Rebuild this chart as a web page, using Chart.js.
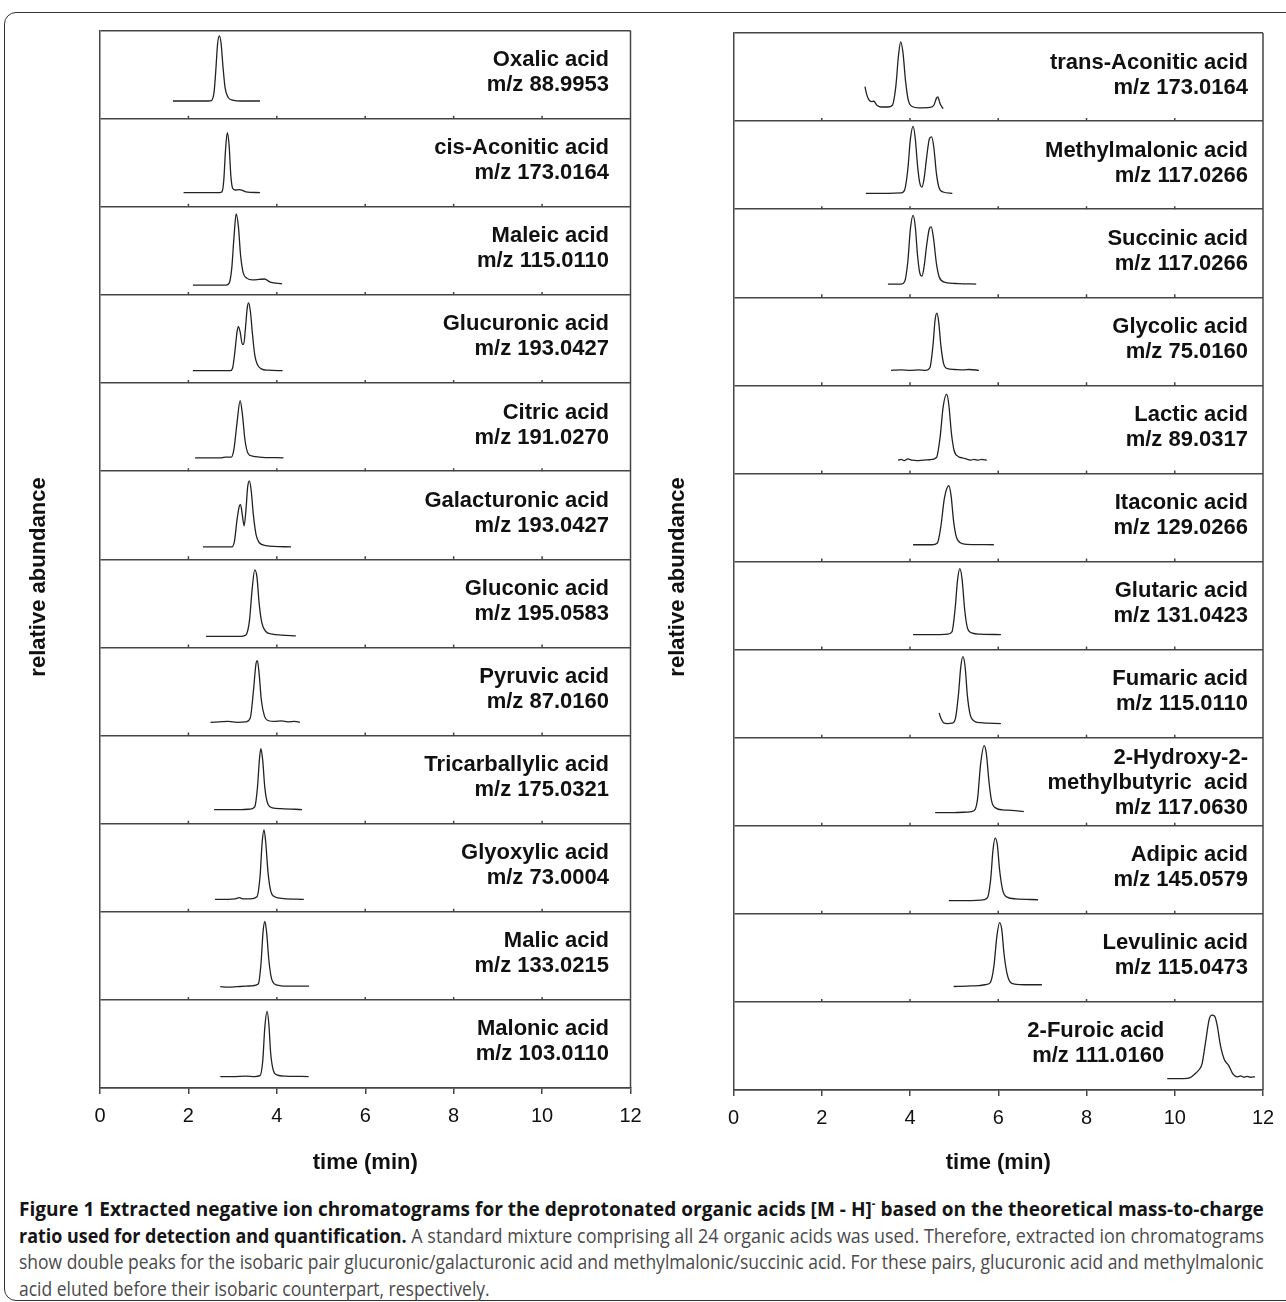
<!DOCTYPE html>
<html><head><meta charset="utf-8">
<script src="https://cdn.jsdelivr.net/npm/chart.js@4.4.0/dist/chart.umd.min.js"></script>
<style>
html,body{margin:0;padding:0;background:#fff;}
body{width:1286px;height:1302px;position:relative;overflow:hidden;font-family:"Liberation Sans",Arial,sans-serif;}
#frame{position:absolute;left:4px;top:12px;width:1320px;height:1289px;border:1.5px solid #333;border-radius:12px;box-sizing:border-box;}
.cv{position:absolute;top:0;}
.cap{position:absolute;left:19px;white-space:nowrap;font-family:"Open Sans",sans-serif;font-size:20px;color:#4a4a4a;transform-origin:0 50%;line-height:26px;height:26px;}
.cap b{color:#151515;font-weight:700;}
.cap sup{font-size:12px;line-height:0;}
</style></head>
<body>
<div id="frame"></div>
<canvas id="c1" class="cv" style="left:0px" width="650" height="1185"></canvas>
<canvas id="c2" class="cv" style="left:650px" width="636" height="1185"></canvas>
<div class="cap" id="l1" style="top:1196px"><b>Figure 1 Extracted negative ion chromatograms for the deprotonated organic acids [M - H]<sup>-</sup> based on the theoretical mass-to-charge</b></div>
<div class="cap" id="l2" style="top:1223px"><b>ratio used for detection and quantification.</b> A standard mixture comprising all 24 organic acids was used. Therefore, extracted ion chromatograms</div>
<div class="cap" id="l3" style="top:1249px">show double peaks for the isobaric pair glucuronic/galacturonic acid and methylmalonic/succinic acid. For these pairs, glucuronic acid and methylmalonic</div>
<div class="cap" id="l4" style="top:1276px">acid eluted before their isobaric counterpart, respectively.</div>
<script>
// ---------- data ----------
const timeTicks = [0, 2, 4, 6, 8, 10, 12];
const xTitle = "time (min)";
const yTitle = "relative abundance";

const leftNames = [["Oxalic acid"],["cis-Aconitic acid"],["Maleic acid"],["Glucuronic acid"],["Citric acid"],["Galacturonic acid"],["Gluconic acid"],["Pyruvic acid"],["Tricarballylic acid"],["Glyoxylic acid"],["Malic acid"],["Malonic acid"]];
const leftMz = ["m/z 88.9953","m/z 173.0164","m/z 115.0110","m/z 193.0427","m/z 191.0270","m/z 193.0427","m/z 195.0583","m/z 87.0160","m/z 175.0321","m/z 73.0004","m/z 133.0215","m/z 103.0110"];
const rightNames = [["trans-Aconitic acid"],["Methylmalonic acid"],["Succinic acid"],["Glycolic acid"],["Lactic acid"],["Itaconic acid"],["Glutaric acid"],["Fumaric acid"],["2-Hydroxy-2-","methylbutyric  acid"],["Adipic acid"],["Levulinic acid"],["2-Furoic acid"]];
const rightMz = ["m/z 173.0164","m/z 117.0266","m/z 117.0266","m/z 75.0160","m/z 89.0317","m/z 129.0266","m/z 131.0423","m/z 115.0110","m/z 117.0630","m/z 145.0579","m/z 115.0473","m/z 111.0160"];

// traces: [time (min), relative abundance in the sub-plot (%)]
const oxalic = [[1.65,20],[2.45,20],[2.52,20.5],[2.58,30],[2.62,55],[2.66,85],[2.70,94],[2.74,85],[2.78,60],[2.83,35],[2.9,24],[3.0,21],[3.2,20],[3.62,20]];
const cisAconitic = [[1.89,16],[2.7,16],[2.76,17],[2.8,30],[2.84,65],[2.88,84],[2.92,70],[2.96,35],[3.0,21],[3.06,19],[3.15,19.5],[3.3,17],[3.62,16]];
const maleic = [[2.1,11],[2.85,11],[2.92,13],[2.98,30],[3.03,65],[3.08,92],[3.13,78],[3.18,45],[3.24,25],[3.32,19],[3.45,17],[3.6,17.5],[3.72,18],[3.85,14.5],[4.12,12.5]];
const glucuronic = [[2.1,14],[2.95,14],[3.0,17],[3.05,35],[3.1,58],[3.13,64],[3.17,58],[3.22,44],[3.25,44],[3.29,62],[3.33,85],[3.36,91],[3.4,82],[3.45,55],[3.5,32],[3.56,21],[3.65,16],[3.8,14.5],[4.13,14]];
const citric = [[2.15,15],[2.75,15],[2.85,16],[2.97,16],[3.03,25],[3.1,55],[3.17,80],[3.22,65],[3.28,35],[3.35,20],[3.45,17],[3.6,16],[4.15,15]];
const galacturonic = [[2.33,14],[2.98,14],[3.04,20],[3.1,45],[3.15,60],[3.18,62],[3.22,50],[3.26,38],[3.3,55],[3.34,82],[3.38,89],[3.42,78],[3.47,50],[3.53,28],[3.6,19],[3.75,15.5],[4.32,14]];
const gluconic = [[2.4,12.5],[3.2,12.5],[3.3,14],[3.38,30],[3.44,65],[3.5,88],[3.55,80],[3.6,50],[3.66,28],[3.75,18],[3.9,15],[4.1,14],[4.43,13]];
const pyruvic = [[2.5,15],[2.7,15.5],[2.9,16],[3.1,15],[3.3,15.5],[3.4,20],[3.47,50],[3.53,82],[3.56,85],[3.6,70],[3.65,40],[3.72,22],[3.8,17],[3.95,16],[4.1,16.5],[4.25,15.5],[4.4,16],[4.52,15]];
const tricarballylic = [[2.58,16],[3.2,16],[3.4,16.5],[3.5,19],[3.56,40],[3.61,75],[3.64,85],[3.68,72],[3.73,40],[3.8,22],[3.9,18],[4.1,17],[4.57,16]];
const glyoxylic = [[2.6,14],[2.9,14],[3.05,14.5],[3.15,16],[3.25,14.5],[3.4,14.5],[3.55,17],[3.62,40],[3.67,80],[3.71,93],[3.75,78],[3.8,45],[3.86,24],[3.95,17],[4.15,15],[4.61,14]];
const malic = [[2.72,15],[2.9,14.5],[3.1,15],[3.3,15.5],[3.45,16],[3.58,18],[3.64,40],[3.69,78],[3.73,89],[3.77,76],[3.82,45],[3.88,24],[3.95,18],[4.1,16],[4.4,15.5],[4.73,15.5]];
const malonic = [[2.72,13],[3.0,13],[3.3,13.5],[3.5,13],[3.62,14],[3.68,30],[3.73,70],[3.78,87],[3.82,72],[3.86,40],[3.92,20],[4.0,15],[4.2,13.5],[4.72,13]];

const transAconitic = [[2.98,39],[3.02,30],[3.07,24],[3.13,22],[3.18,22.5],[3.25,18],[3.35,16],[3.5,16],[3.6,18],[3.68,40],[3.74,75],[3.79,90],[3.84,78],[3.9,45],[3.96,24],[4.05,16.5],[4.2,15],[4.45,15.5],[4.54,18],[4.6,26],[4.63,27.5],[4.68,20],[4.75,14]];
const methylmalonic = [[3.0,18],[3.5,18],[3.8,18.5],[3.88,22],[3.95,45],[4.01,80],[4.07,94],[4.12,80],[4.17,50],[4.22,30],[4.27,25],[4.32,35],[4.38,60],[4.44,80],[4.49,82],[4.54,70],[4.6,40],[4.66,24],[4.75,19.5],[4.96,18]];
const succinic = [[3.5,15],[3.8,15],[3.88,18],[3.95,40],[4.01,78],[4.07,93],[4.12,80],[4.17,48],[4.22,28],[4.27,24],[4.32,35],[4.38,60],[4.44,78],[4.48,80],[4.53,68],[4.6,38],[4.67,22],[4.8,17],[5.1,15.5],[5.5,15]];
const glycolic = [[3.57,17],[3.8,17.5],[4.0,17],[4.2,17.5],[4.35,17],[4.45,20],[4.52,45],[4.57,75],[4.61,82],[4.65,72],[4.7,45],[4.76,25],[4.85,19],[5.0,18],[5.2,17.5],[5.35,18],[5.56,17]];
const lactic = [[3.73,15],[3.8,16],[3.87,14.5],[3.95,16.5],[4.05,15],[4.15,14.5],[4.3,15],[4.45,15.5],[4.6,18],[4.68,40],[4.75,75],[4.83,90],[4.88,78],[4.94,45],[5.0,26],[5.1,19],[5.2,17.5],[5.3,16],[5.38,15],[5.45,16],[5.55,15],[5.62,16],[5.74,15]];
const itaconic = [[4.07,19],[4.5,19],[4.62,21],[4.7,40],[4.78,72],[4.88,86],[4.93,75],[4.99,45],[5.05,28],[5.15,21],[5.3,19.5],[5.9,19]];
const glutaric = [[4.07,17],[4.6,17],[4.85,17.5],[4.95,20],[5.02,45],[5.08,80],[5.13,92],[5.18,80],[5.24,45],[5.3,25],[5.4,19],[5.6,17.5],[6.06,17]];
const fumaric = [[4.66,28],[4.7,22],[4.76,17],[4.85,16],[4.95,16.5],[5.03,22],[5.1,50],[5.15,80],[5.2,92],[5.25,80],[5.3,48],[5.36,27],[5.45,19],[5.6,17],[6.06,16]];
const hydroxyMethylbutyric = [[4.57,15],[5.0,15],[5.3,15.5],[5.45,17],[5.53,30],[5.6,70],[5.68,91],[5.73,82],[5.79,50],[5.85,28],[5.95,20],[6.1,18],[6.3,17.5],[6.58,16]];
const adipic = [[4.88,15],[5.3,15],[5.6,15.5],[5.75,18],[5.83,40],[5.88,72],[5.93,86],[5.98,78],[6.03,50],[6.1,27],[6.2,19],[6.4,17],[6.9,16]];
const levulinic = [[4.99,17.5],[5.3,18],[5.55,18.5],[5.7,19.5],[5.82,22],[5.9,40],[5.97,75],[6.03,90],[6.08,82],[6.13,55],[6.2,32],[6.28,22],[6.4,20],[6.6,19.5],[6.99,19.5]];
const furoic = [[9.83,13],[10.2,13],[10.35,14],[10.45,18],[10.55,23],[10.62,30],[10.7,55],[10.78,80],[10.84,85],[10.9,84],[10.96,74],[11.03,52],[11.12,35],[11.22,28],[11.32,18],[11.42,15],[11.5,16],[11.56,14.5],[11.64,15.5],[11.72,14.5],[11.82,15]];

const leftTraces = [oxalic, cisAconitic, maleic, glucuronic, citric, galacturonic, gluconic, pyruvic, tricarballylic, glyoxylic, malic, malonic];
const rightTraces = [transAconitic, methylmalonic, succinic, glycolic, lactic, itaconic, glutaric, fumaric, hydroxyMethylbutyric, adipic, levulinic, furoic];

// ---------- drawing ----------
const FAM = '"Liberation Sans", Arial, Helvetica, sans-serif';
const LINE = '#454545';

function buildPanel(id, traces, names, mzs, g) {
  const n = traces.length;
  const datasets = traces.map((tr, i) => ({
    data: tr.map(p => ({x: p[0], y: (n - 1 - i) * 100 + p[1]})),
    borderColor: '#222', borderWidth: 1.3, pointRadius: 0, fill: false,
    cubicInterpolationMode: 'monotone'
  }));
  const decor = {
    id: 'decor' + id,
    afterDraw(chart) {
      const {ctx, chartArea: a, scales: {x, y}} = chart;
      ctx.save();
      ctx.strokeStyle = LINE; ctx.lineWidth = 1.5;
      ctx.beginPath();
      ctx.moveTo(a.right, a.top); ctx.lineTo(a.right, a.bottom);
      for (let k = 1; k < n; k++) {
        const py = y.getPixelForValue(k * 100);
        timeTicks.slice(1, -1).forEach(t => {
          const px = x.getPixelForValue(t);
          ctx.moveTo(px, py); ctx.lineTo(px, py - 3);
        });
      }
      ctx.stroke();
      ctx.fillStyle = '#111';
      ctx.font = 'bold 22px ' + FAM;
      ctx.textAlign = 'right'; ctx.textBaseline = 'middle';
      names.forEach((nm, i) => {
        const lines = nm.concat([mzs[i]]);
        const top = y.getPixelForValue((n - i) * 100);
        let rx = a.right - g.inset;
        const tr = traces[i];
        const endPx = x.getPixelForValue(tr[tr.length - 1][0]);
        if (endPx > rx - 60) rx = x.getPixelForValue(tr[0][0]) - 3;
        const c = top + 42 + (lines.length - 2) * 3.5;
        lines.forEach((s, j) => {
          ctx.fillText(s, rx, c + (j - (lines.length - 1) / 2) * 25);
        });
      });
      ctx.save();
      ctx.translate(g.yTitleX, 577);
      ctx.rotate(-Math.PI / 2);
      ctx.textAlign = 'center';
      ctx.fillText(yTitle, 0, 0);
      ctx.restore();
      ctx.restore();
    }
  };
  new Chart(document.getElementById(id), {
    type: 'line',
    data: {datasets},
    plugins: [decor],
    options: {
      responsive: false, animation: false, events: [],
      layout: {padding: {left: 0, top: g.top, right: g.right, bottom: 0}},
      plugins: {legend: {display: false}, tooltip: {enabled: false}},
      scales: {
        x: {
          type: 'linear', min: 0, max: 12, position: 'bottom',
          afterBuildTicks: s => { s.ticks = timeTicks.map(v => ({value: v})); },
          afterFit: s => { s.height = g.xh; },
          ticks: {font: {family: FAM, size: 20, lineHeight: 1.45}, color: '#111', padding: 8, maxRotation: 0, autoSkip: false},
          grid: {drawOnChartArea: false, drawTicks: true, tickLength: 6, color: LINE, lineWidth: 1.5},
          border: {display: true, color: LINE, width: 1.5},
          title: {display: true, text: xTitle, font: {family: FAM, size: 22, weight: 'bold'}, color: '#111', padding: {top: 0, bottom: 9}}
        },
        y: {
          type: 'linear', min: 0, max: n * 100,
          afterBuildTicks: s => { s.ticks = Array.from({length: n + 1}, (_, k) => ({value: k * 100})); },
          afterFit: s => { s.width = g.yw; },
          ticks: {display: false},
          grid: {drawTicks: false, color: LINE, lineWidth: 1.5},
          border: {display: true, color: LINE, width: 1.5}
        }
      }
    }
  });
}

function fitCaption() {
  const target = 1245;
  const ids = ['l1', 'l2', 'l3'];
  let lastScale = 1;
  ids.forEach(id => {
    const el = document.getElementById(id);
    el.style.transform = 'none';
    const w = el.scrollWidth;
    lastScale = target / w;
    el.style.transform = 'scaleX(' + lastScale + ')';
  });
  document.getElementById('l4').style.transform = 'scaleX(' + lastScale + ')';
}

buildPanel('c1', leftTraces, leftNames, leftMz, {top: 30.5, right: 19.5, yw: 100, xh: 97, inset: 21.5, yTitleX: 39});
buildPanel('c2', rightTraces, rightNames, rightMz, {top: 33, right: 23, yw: 83.5, xh: 95, inset: 15, yTitleX: 28});
fitCaption();
if (document.fonts && document.fonts.ready) document.fonts.ready.then(fitCaption);
</script>
</body></html>
